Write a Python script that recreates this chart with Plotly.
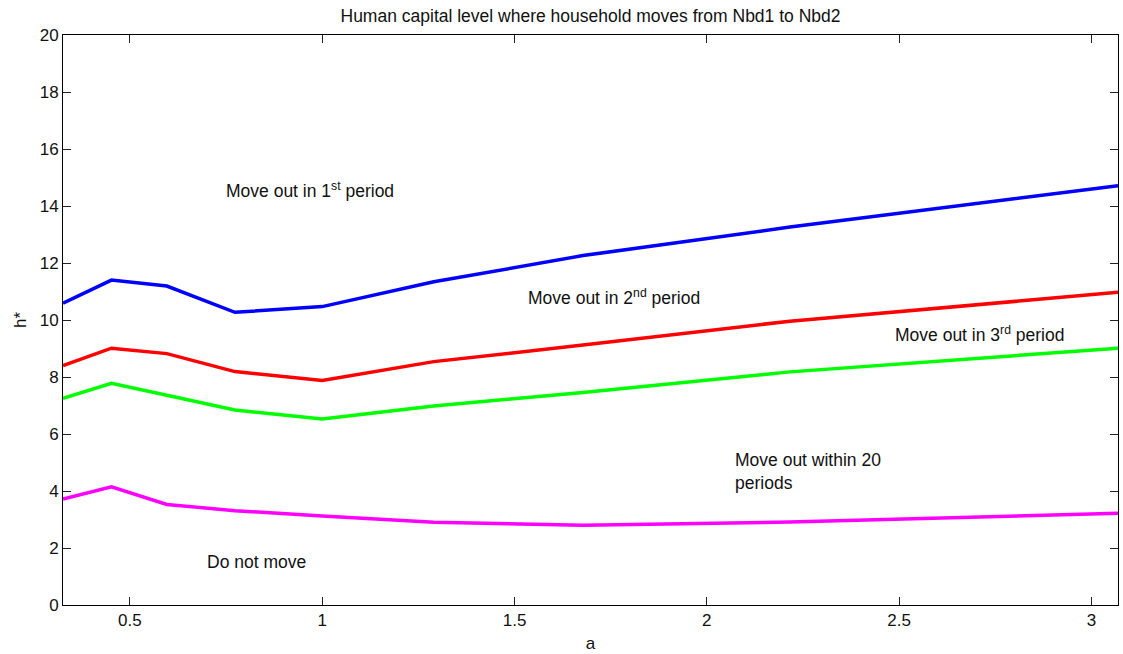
import plotly.graph_objects as go

a_vals = [0.326, 0.452, 0.596, 0.773, 1.0, 1.29, 1.678, 2.216, 3.069]
h_period1 = [10.59, 11.40, 11.19, 10.27, 10.47, 11.34, 12.26, 13.26, 14.71]
h_period2 = [8.40, 9.01, 8.82, 8.19, 7.88, 8.54, 9.12, 9.96, 10.97]
h_period3 = [7.25, 7.78, 7.36, 6.84, 6.53, 6.98, 7.46, 8.18, 9.01]
h_within20 = [3.72, 4.15, 3.53, 3.31, 3.12, 2.90, 2.80, 2.91, 3.22]

series = [
    (h_period1, "#0000ff"),
    (h_period2, "#ff0000"),
    (h_period3, "#00ff00"),
    (h_within20, "#ff00ff"),
]

fig = go.Figure()
for ys, col in series:
    fig.add_trace(go.Scatter(x=a_vals, y=ys, mode="lines",
                             line=dict(color=col, width=3.5), showlegend=False,
                             hoverinfo="skip"))

font_family = "Liberation Sans, Arial, Helvetica, sans-serif"
txt_col = "#111111"
labels = [
    (0.745, 14.56, "Move out in 1<sup>st</sup> period"),
    (1.530, 10.81, "Move out in 2<sup>nd</sup> period"),
    (2.483, 9.51, "Move out in 3<sup>rd</sup> period"),
    (2.068, 4.70, "Move out within 20<br>periods"),
    (0.695, 1.51, "Do not move"),
]
for x, y, t in labels:
    fig.add_annotation(x=x, y=y, text=t, showarrow=False, xanchor="left",
                       yanchor="middle", align="left",
                       font=dict(size=17.5, color=txt_col, family=font_family))

axis_common = dict(showline=True, linecolor="#000000", linewidth=1, mirror="allticks",
                   ticks="inside", ticklen=8, tickcolor="#222222", showgrid=False,
                   zeroline=False, tickfont=dict(size=17, color=txt_col, family=font_family))

W, H = 1123, 654
fig.update_layout(
    width=W, height=H,
    margin=dict(l=63, r=5, t=35, b=49),
    paper_bgcolor="white", plot_bgcolor="white",
    title=dict(text="Human capital level where household moves from Nbd1 to Nbd2",
               x=0.5, xref="paper", y=1 - 16 / H, yref="container", yanchor="middle",
               font=dict(size=17.5, color=txt_col, family=font_family)),
    xaxis=dict(range=[0.326, 3.069], tickvals=[0.5, 1, 1.5, 2, 2.5, 3],
               ticktext=["0.5", "1", "1.5", "2", "2.5", "3"],
               title=dict(text="a", standoff=7, font=dict(size=17, color=txt_col, family=font_family)),
               **axis_common),
    yaxis=dict(range=[0, 20], tickvals=list(range(0, 21, 2)),
               title=dict(text="h*", standoff=8, font=dict(size=17, color=txt_col, family=font_family)),
               **axis_common),
)

fig.write_html("out.html", config={"displayModeBar": False},
               post_script="document.body.style.margin='0px';")
